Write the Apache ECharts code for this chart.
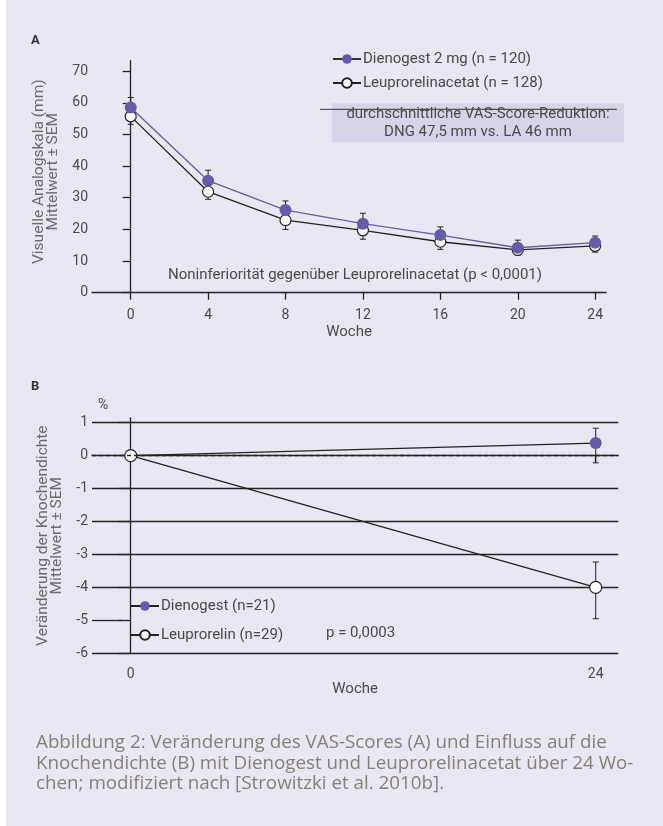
<!DOCTYPE html>
<html>
<head>
<meta charset="utf-8">
<script src="https://cdn.jsdelivr.net/npm/echarts@6/dist/echarts.min.js"></script>
<style>
  html, body { margin: 0; padding: 0; background: #ffffff; }
  #main { width: 663px; height: 826px; }
</style>
</head>
<body>
<div id="main"></div>
<script type="text/javascript">

// A: VAS-Score (mm) ueber 24 Wochen
var weeksA = [0, 4, 8, 12, 16, 20, 24];
var tickWeeksA = [0, 4, 8, 12, 16, 20, 24];
var ticksVas = [0, 10, 20, 30, 40, 50, 60, 70];
var dngVas = [58.5, 35.4, 26.1, 21.8, 18.2, 14.2, 15.8];
var dngVasSem = [3.2, 3.3, 2.9, 3.3, 2.6, 2.4, 2.1];   // nur nach oben gezeichnet
var laVas = [55.7, 31.9, 22.9, 19.7, 16.1, 13.5, 14.8];
var laVasSem = [2.5, 2.4, 2.9, 2.8, 2.4, 1.6, 2.0];    // nur nach unten gezeichnet

// B: Veraenderung der Knochendichte (%)
var weeksB = [0, 24];
var tickWeeksB = [0, 24];
var ticksBmd = [-6, -5, -4, -3, -2, -1, 0, 1];
var dngBmd = [0, 0.38];
var dngBmdUp = [0, 0.45];
var dngBmdDown = [0, 0.6];
var laBmd = [0, -4.0];
var laBmdUp = [0, 0.77];
var laBmdDown = [0, 0.95];

var PURPLE = '#655bab';
var INK = '#222222';
var LABEL = '#4a4a4a';
var FONT = 'Roboto, "Noto Sans", sans-serif';
var CAPTION_FONT = '"Open Sans", Roboto, sans-serif';

var chartDom = document.getElementById('main');
var myChart = echarts.init(chartDom, null, { renderer: 'canvas' });

function pairs(xs, ys) {
  return xs.map(function (x, i) { return [x, ys[i]]; });
}

// Fehlerbalken: [x, unten, oben]
function errData(xs, lows, highs) {
  return xs.map(function (x, i) { return [x, lows[i], highs[i]]; });
}

function renderErr(params, api) {
  var x = api.value(0);
  var lo = api.coord([x, api.value(1)]);
  var hi = api.coord([x, api.value(2)]);
  var cap = 3;
  var style = { stroke: INK, lineWidth: 1 };
  return {
    type: 'group',
    children: [
      { type: 'line', shape: { x1: lo[0], y1: lo[1], x2: hi[0], y2: hi[1] }, style: style },
      { type: 'line', shape: { x1: lo[0] - cap, y1: lo[1], x2: lo[0] + cap, y2: lo[1] }, style: style },
      { type: 'line', shape: { x1: hi[0] - cap, y1: hi[1], x2: hi[0] + cap, y2: hi[1] }, style: style }
    ]
  };
}

var dngUpperA = dngVas.map(function (v, i) { return v + dngVasSem[i]; });
var laLowerA = laVas.map(function (v, i) { return v - laVasSem[i]; });
var dngLowB = dngBmd.map(function (v, i) { return v - dngBmdDown[i]; });
var dngHighB = dngBmd.map(function (v, i) { return v + dngBmdUp[i]; });
var laLowB = laBmd.map(function (v, i) { return v - laBmdDown[i]; });
var laHighB = laBmd.map(function (v, i) { return v + laBmdUp[i]; });

var axisLine = { show: true, lineStyle: { color: INK, width: 1.3 } };
var tickStyle = { color: INK, width: 1.3 };
var captionStyle = { font: '18.8px ' + CAPTION_FONT, fill: '#857f7a', verticalAlign: 'middle' };

var option = {
  backgroundColor: 'transparent',
  textStyle: { fontFamily: FONT },
  animation: false,
  grid: [
    { left: 92, right: 57, top: 60.7, bottom: 533.3 },
    { left: 92, right: 44.8, top: 418, bottom: 172.7 }
  ],
  xAxis: [
    {
      gridIndex: 0, type: 'value', min: -2, max: 24.56,
      name: 'Woche', nameLocation: 'middle', nameGap: 32,
      nameTextStyle: { fontSize: 15, color: LABEL },
      axisLine: axisLine,
      axisTick: { show: true, length: 7, lineStyle: tickStyle, customValues: tickWeeksA },
      axisLabel: { customValues: tickWeeksA, fontSize: 14, color: LABEL, margin: 16 },
      splitLine: { show: false }
    },
    {
      gridIndex: 1, type: 'value', min: -2, max: 25.16,
      name: 'Woche', nameLocation: 'middle', nameGap: 26,
      nameTextStyle: { fontSize: 15, color: LABEL },
      axisLine: axisLine,
      axisTick: { show: true, length: 7, lineStyle: tickStyle, customValues: tickWeeksB },
      axisLabel: { customValues: tickWeeksB, fontSize: 14, color: LABEL, margin: 14 },
      splitLine: { show: false }
    }
  ],
  yAxis: [
    {
      gridIndex: 0, type: 'value', min: 0, max: 73.3, offset: -10,
      name: 'Visuelle Analogskala (mm)\nMittelwert ± SEM',
      nameLocation: 'middle', nameGap: 33,
      nameTextStyle: { fontSize: 15.5, color: '#6b6b6b', lineHeight: 14, padding: [0, 0, 0, 10] },
      axisLine: axisLine,
      axisTick: { show: true, length: 8, lineStyle: tickStyle, customValues: ticksVas },
      axisLabel: { customValues: ticksVas, fontSize: 14, color: LABEL, margin: 14 },
      splitLine: { show: false }
    },
    {
      gridIndex: 1, type: 'value', min: -6, max: 1.14, offset: -12,
      name: 'Veränderung der Knochendichte\nMittelwert ± SEM',
      nameLocation: 'middle', nameGap: 36,
      nameTextStyle: { fontSize: 15.5, color: '#6b6b6b', lineHeight: 14 },
      axisLine: axisLine,
      axisTick: { show: true, length: 12, lineStyle: tickStyle, customValues: ticksBmd },
      axisLabel: { customValues: ticksBmd, fontSize: 14, color: LABEL, margin: 16 },
      splitLine: {
        show: true,
        lineStyle: {
          width: 1.3,
          // -6 Achse, -5 vom Legendenfeld verdeckt, 0 gestrichelt extra
          color: [INK, 'transparent', INK, INK, INK, INK, 'transparent', INK]
        }
      }
    }
  ],
  legend: [
    {
      orient: 'vertical', left: 332, top: 51, padding: 0, itemWidth: 28, itemHeight: 12, itemGap: 8,
      textStyle: { fontSize: 15, color: LABEL, lineHeight: 16, padding: [0, 0, 0, -3] },
      data: [
        { name: 'Dienogest 2 mg (n = 120)', lineStyle: { color: '#333' } },
        { name: 'Leuprorelinacetat (n = 128)' }
      ]
    },
    {
      orient: 'vertical', left: 130, top: 598, padding: 0, itemWidth: 28, itemHeight: 12, itemGap: 13,
      textStyle: { fontSize: 15, color: LABEL, lineHeight: 16, padding: [0, 0, 0, -3] },
      data: [
        { name: 'Dienogest (n=21)' },
        { name: 'Leuprorelin (n=29)' }
      ]
    }
  ],
  graphic: [
    { type: 'rect', left: 6, top: 0, shape: { width: 657, height: 826 }, style: { fill: '#e9e7f1' }, z: -10 },
    { type: 'text', left: 31, top: 34, style: { text: 'A', font: 'bold 13px ' + FONT, fill: '#333' } },
    { type: 'text', left: 31, top: 380, style: { text: 'B', font: 'bold 13px ' + FONT, fill: '#333' } },
    { type: 'text', left: 98, top: 398, style: { text: '%', font: '14px ' + FONT, fill: LABEL } },
    // Kasten mit mittlerer Reduktion
    { type: 'rect', left: 332, top: 103.3, shape: { width: 292, height: 39 }, style: { fill: '#d6d4e8' }, z: 1 },
    { type: 'line', shape: { x1: 320, y1: 109.3, x2: 617, y2: 109.3 }, style: { stroke: '#333', lineWidth: 1 }, z: 2 },
    {
      type: 'text', x: 478, y: 123, z: 3,
      style: {
        text: 'durchschnittliche VAS-Score-Reduktion:\nDNG 47,5 mm vs. LA 46 mm',
        font: '15px ' + FONT, fill: LABEL, align: 'center', verticalAlign: 'middle', lineHeight: 18
      }
    },
    {
      type: 'text', x: 355, y: 275, z: 3,
      style: {
        text: 'Noninferiorität gegenüber Leuprorelinacetat (p < 0,0001)',
        font: '15px ' + FONT, fill: LABEL, align: 'center', verticalAlign: 'middle'
      }
    },
    {
      type: 'text', x: 326, y: 633, z: 3,
      style: { text: 'p = 0,0003', font: '15px ' + FONT, fill: LABEL, verticalAlign: 'middle' }
    },
    // Bildunterschrift
    { type: 'text', x: 36, y: 743, z: 3, style: Object.assign({ text: 'Abbildung 2: Veränderung des VAS-Scores (A) und Einfluss auf die' }, captionStyle) },
    { type: 'text', x: 36, y: 764, z: 3, style: Object.assign({ text: 'Knochendichte (B) mit Dienogest und Leuprorelinacetat über 24 Wo-' }, captionStyle) },
    { type: 'text', x: 36, y: 784, z: 3, style: Object.assign({ text: 'chen; modifiziert nach [Strowitzki et al. 2010b].' }, captionStyle) }
  ],
  series: [
    // ---- A ----
    {
      type: 'custom', xAxisIndex: 0, yAxisIndex: 0, z: 1,
      renderItem: renderErr, data: errData(weeksA, laLowerA, laVas), silent: true
    },
    {
      type: 'custom', xAxisIndex: 0, yAxisIndex: 0, z: 1,
      renderItem: renderErr, data: errData(weeksA, dngVas, dngUpperA), silent: true
    },
    {
      name: 'Leuprorelinacetat (n = 128)', type: 'line', xAxisIndex: 0, yAxisIndex: 0,
      data: pairs(weeksA, laVas), symbol: 'circle', symbolSize: 11,
      lineStyle: { color: INK, width: 1.3 },
      itemStyle: { color: '#ffffff', borderColor: INK, borderWidth: 1.2 }
    },
    {
      name: 'Dienogest 2 mg (n = 120)', type: 'line', xAxisIndex: 0, yAxisIndex: 0,
      data: pairs(weeksA, dngVas), symbol: 'circle', symbolSize: 12,
      lineStyle: { color: PURPLE, width: 1.3 },
      itemStyle: { color: PURPLE, borderColor: PURPLE, borderWidth: 0 }
    },
    // ---- B ----
    {
      type: 'custom', xAxisIndex: 1, yAxisIndex: 1, z: 1,
      renderItem: renderErr, data: errData(weeksB, dngLowB, dngHighB), silent: true
    },
    {
      type: 'custom', xAxisIndex: 1, yAxisIndex: 1, z: 1,
      renderItem: renderErr, data: errData(weeksB, laLowB, laHighB), silent: true
    },
    {
      name: 'Dienogest (n=21)', type: 'line', xAxisIndex: 1, yAxisIndex: 1,
      data: pairs(weeksB, dngBmd), symbol: 'circle', symbolSize: 12,
      lineStyle: { color: INK, width: 1.3 },
      itemStyle: { color: PURPLE, borderWidth: 0 },
      markLine: {
        silent: true, symbol: 'none', label: { show: false },
        lineStyle: { color: INK, width: 1.3, type: [4, 3] },
        data: [
          { yAxis: 0 },
          [{ coord: [-2, -5], lineStyle: { type: 'solid' } }, { coord: [-0.45, -5] }]
        ]
      }
    },
    {
      name: 'Leuprorelin (n=29)', type: 'line', xAxisIndex: 1, yAxisIndex: 1,
      data: pairs(weeksB, laBmd), symbol: 'circle', symbolSize: 12,
      lineStyle: { color: INK, width: 1.3 },
      itemStyle: { color: '#ffffff', borderColor: INK, borderWidth: 1.2 }
    }
  ]
};

option && myChart.setOption(option, true);

</script>
</body>
</html>
